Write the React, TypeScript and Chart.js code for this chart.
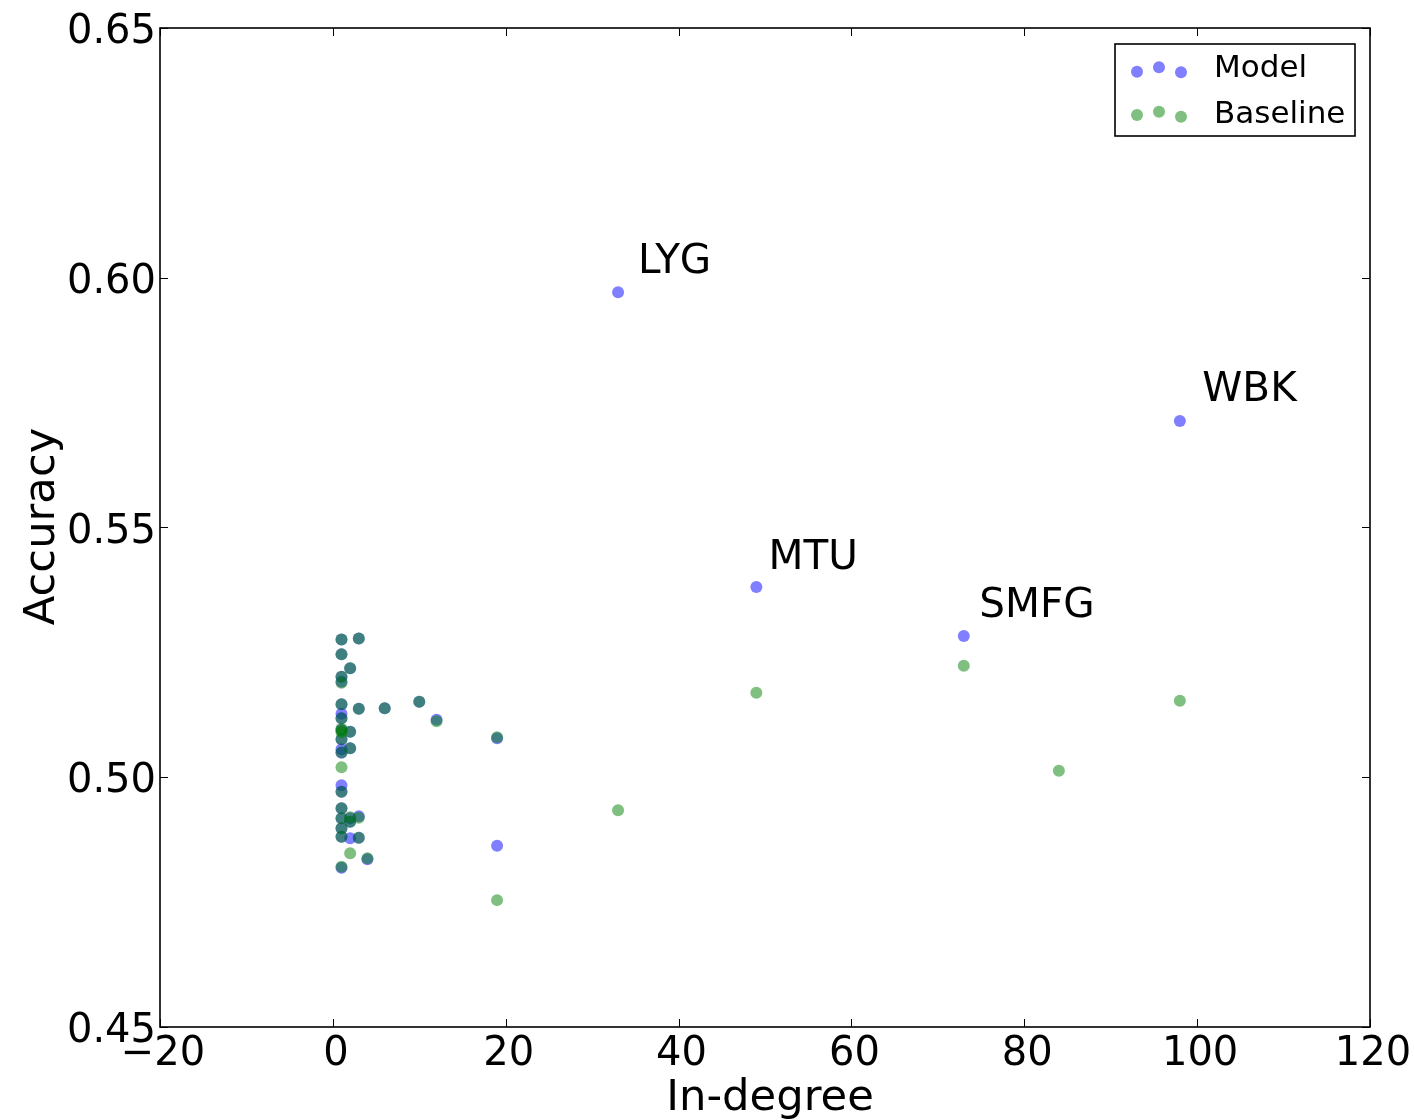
import React, { useEffect, useRef } from "react";
import { Chart, registerables } from "chart.js";

Chart.register(...registerables);

// ---- data ----
const modelX = [
  1, 1, 1, 1, 1, 1, 1, 1, 1, 1, 1, 1, 1, 1, 1, 1, 1, 1,
  2, 2, 2, 2, 2, 2,
  3, 3, 3, 3,
  4, 6, 10, 12, 19, 19,
  33, 49, 73, 98,
];
const modelY = [
  0.5276, 0.5246, 0.5201, 0.5191, 0.5146, 0.5127, 0.5118, 0.5095, 0.5076, 0.5056, 0.5049, 0.4984, 0.4971, 0.4938, 0.4918, 0.4898, 0.4881, 0.4819,
  0.5218, 0.5091, 0.5058, 0.4918, 0.4911, 0.4878,
  0.5278, 0.5137, 0.4922, 0.4879,
  0.4836, 0.5138, 0.5151, 0.5115, 0.5078, 0.4863,
  0.5971, 0.5381, 0.5283, 0.5713,
];
const baselineX = [
  1, 1, 1, 1, 1, 1, 1, 1, 1, 1, 1, 1, 1, 1, 1, 1, 1, 1,
  2, 2, 2, 2, 2, 2,
  3, 3, 3, 3,
  4, 6, 10, 12, 19, 19,
  33, 49, 73, 84, 98,
];
const baselineY = [
  0.5276, 0.5246, 0.5201, 0.5189, 0.5146, 0.5118, 0.5097, 0.5093, 0.5090, 0.5076, 0.5050, 0.5020, 0.4971, 0.4938, 0.4918, 0.4898, 0.4881, 0.4821,
  0.5218, 0.5091, 0.5058, 0.4920, 0.4911, 0.4848,
  0.5278, 0.5137, 0.4919, 0.4879,
  0.4838, 0.5138, 0.5151, 0.5112, 0.5080, 0.4754,
  0.4934, 0.5169, 0.5223, 0.5013, 0.5153,
];
const labelNames = ["LYG", "MTU", "SMFG", "WBK"];
const labelX = [35.3, 50.4, 74.8, 100.6];
const labelY = [0.6009, 0.5417, 0.5321, 0.5753];
const xTicks = [-20, 0, 20, 40, 60, 80, 100, 120];
const yTicks = [0.45, 0.5, 0.55, 0.6, 0.65];
const seriesNames = ["Model", "Baseline"];
const seriesColors = ["rgba(0,0,255,0.5)", "rgba(0,128,0,0.5)"];

const FONT = "DejaVu Sans";

const decorPlugin = {
  id: "decor",
  afterDatasetsDraw(chart: any) {
    const ctx = chart.ctx as CanvasRenderingContext2D;
    const { left, right, top, bottom } = chart.chartArea;
    const xs = chart.scales.x;
    const ys = chart.scales.y;
    ctx.save();
    // annotations
    ctx.fillStyle = "#000";
    ctx.font = `40.5px "${FONT}"`;
    ctx.textAlign = "left";
    ctx.textBaseline = "alphabetic";
    labelNames.forEach((n, i) => {
      const px = xs.getPixelForValue(labelX[i]);
      const py = ys.getPixelForValue(labelY[i]);
      ctx.fillText(n, px, py);
    });
    // frame
    ctx.strokeStyle = "#000";
    ctx.lineWidth = 1.6;
    ctx.strokeRect(left, top, right - left, bottom - top);
    // ticks
    ctx.lineWidth = 1;
    const tl = 8;
    ctx.beginPath();
    xTicks.forEach((t) => {
      const px = Math.round(xs.getPixelForValue(t)) + 0.5;
      ctx.moveTo(px, bottom);
      ctx.lineTo(px, bottom - tl);
      ctx.moveTo(px, top);
      ctx.lineTo(px, top + tl);
    });
    yTicks.forEach((t) => {
      const py = Math.round(ys.getPixelForValue(t)) + 0.5;
      ctx.moveTo(left, py);
      ctx.lineTo(left + tl, py);
      ctx.moveTo(right, py);
      ctx.lineTo(right - tl, py);
    });
    ctx.stroke();
    // tick labels
    ctx.font = `40px "${FONT}"`;
    ctx.textAlign = "center";
    xTicks.forEach((t) => {
      const px = xs.getPixelForValue(t);
      const s = t < 0 ? "\u2212" + Math.abs(t) : String(t);
      ctx.fillText(s, px + 3, bottom + 38);
    });
    ctx.textAlign = "right";
    yTicks.forEach((t) => {
      const py = ys.getPixelForValue(t);
      ctx.fillText(t.toFixed(2), left - 4, py + 15);
    });
    // axis titles
    ctx.font = `43.3px "${FONT}"`;
    ctx.textAlign = "center";
    ctx.fillText("In-degree", (left + right) / 2 + 5, bottom + 83);
    ctx.save();
    ctx.translate(54, (top + bottom) / 2 - 1);
    ctx.rotate(-Math.PI / 2);
    ctx.fillText("Accuracy", 0, 0);
    ctx.restore();
    // legend
    const lx = 1115, ly = 44, lw = 240, lh = 92;
    ctx.fillStyle = "#fff";
    ctx.fillRect(lx, ly, lw, lh);
    ctx.strokeStyle = "#000";
    ctx.lineWidth = 1.6;
    ctx.strokeRect(lx, ly, lw, lh);
    const dotDx = [22, 44, 66];
    const dotDy = [[27.7, 23.3, 28.3], [71, 67.7, 72.7]];
    seriesNames.forEach((n, i) => {
      ctx.fillStyle = seriesColors[i];
      dotDx.forEach((dx, k) => {
        ctx.beginPath();
        ctx.arc(lx + dx, ly + dotDy[i][k], 6, 0, Math.PI * 2);
        ctx.fill();
      });
      ctx.fillStyle = "#000";
      ctx.font = `31px "${FONT}"`;
      ctx.textAlign = "left";
      ctx.fillText(n, lx + 99, ly + 33 + i * 46);
    });
    ctx.restore();
  },
};

export default function App() {
  const ref = useRef<HTMLCanvasElement>(null);
  useEffect(() => {
    document.body.style.margin = "0";
    const toPts = (xs: number[], ys: number[]) => xs.map((x, i) => ({ x, y: ys[i] }));
    const chart = new Chart(ref.current!, {
      type: "scatter",
      data: {
        datasets: [
          {
            label: seriesNames[1],
            data: toPts(baselineX, baselineY),
            backgroundColor: seriesColors[1],
            borderWidth: 0,
            pointRadius: 6,
          },
          {
            label: seriesNames[0],
            data: toPts(modelX, modelY),
            backgroundColor: seriesColors[0],
            borderWidth: 0,
            pointRadius: 6,
          },
        ],
      },
      options: {
        responsive: false,
        animation: false,
        devicePixelRatio: 1,
        layout: { padding: { left: 160, right: 44, top: 28, bottom: 93 } },
        plugins: { legend: { display: false }, tooltip: { enabled: false } },
        scales: {
          x: { type: "linear", min: -20, max: 120, display: false },
          y: { type: "linear", min: 0.45, max: 0.65, display: false },
        },
      },
      plugins: [decorPlugin],
    });
    return () => chart.destroy();
  }, []);
  return (
    <div style={{ position: "absolute", left: 0, top: 0, width: 1414, height: 1120, background: "#fff" }}>
      <canvas ref={ref} width={1414} height={1120} style={{ display: "block" }} />
    </div>
  );
}
